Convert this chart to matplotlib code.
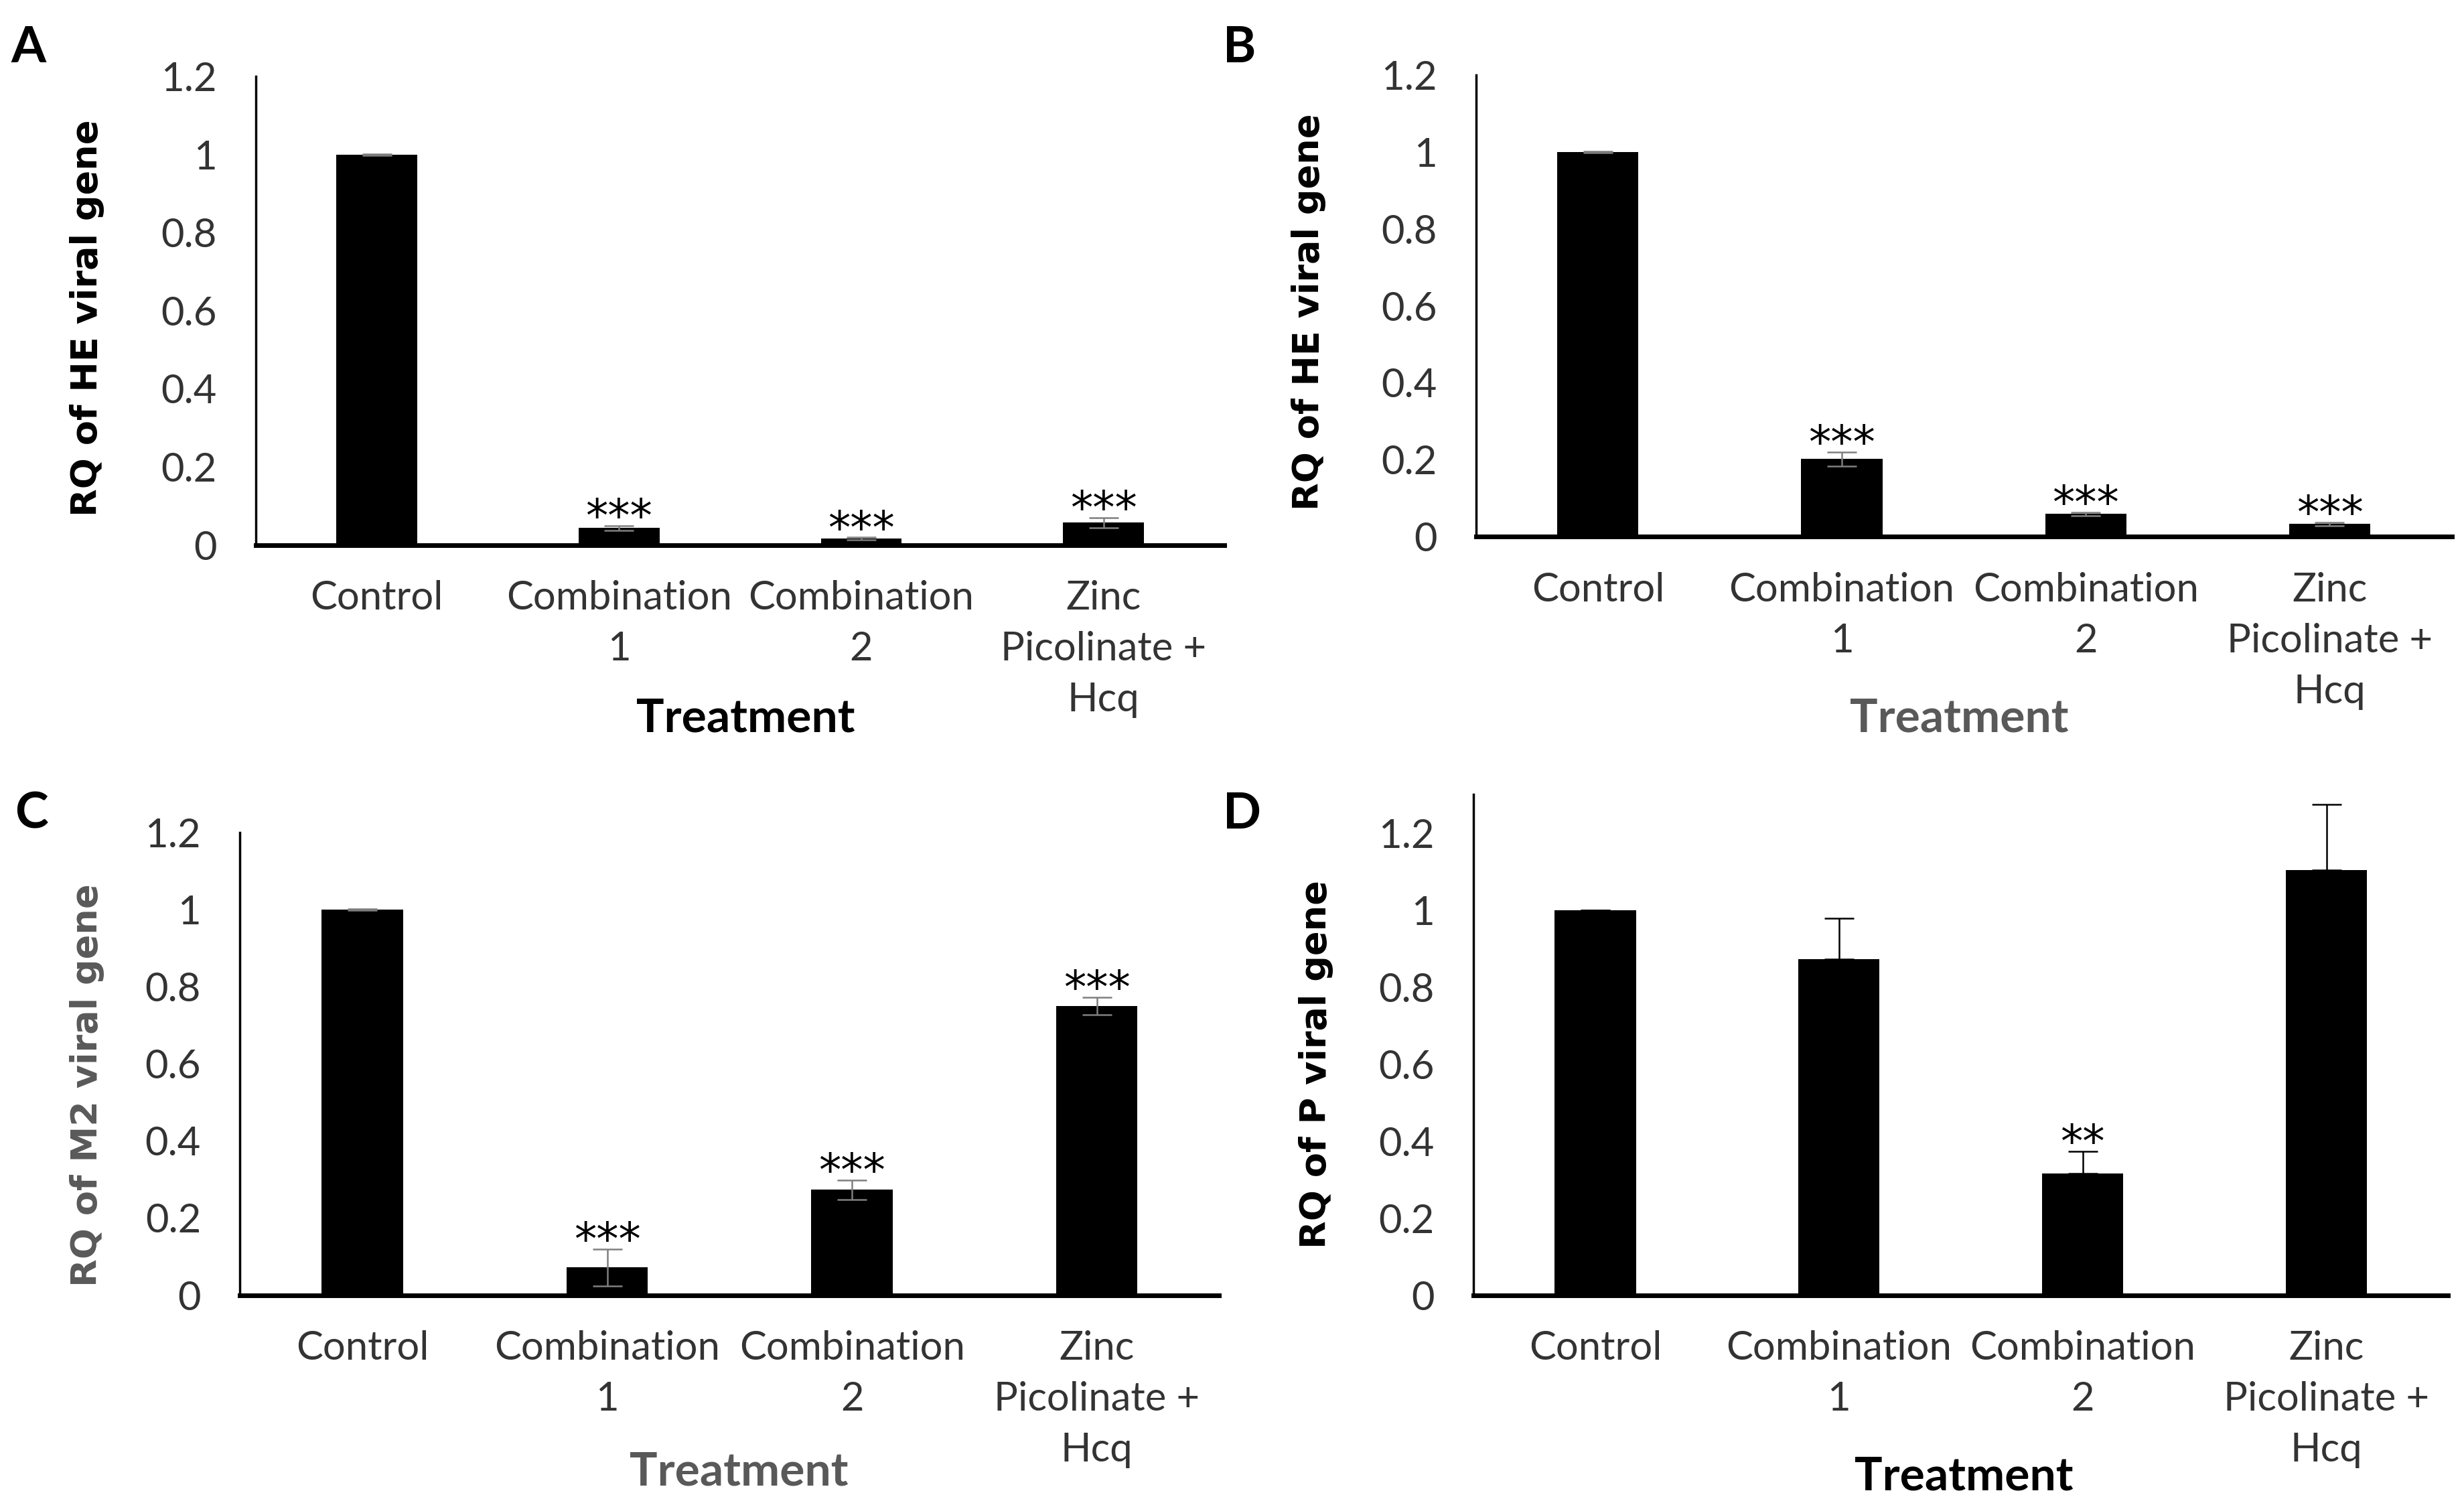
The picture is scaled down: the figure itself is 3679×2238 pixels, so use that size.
import matplotlib
matplotlib.use("Agg")
import matplotlib.pyplot as plt
import numpy as np

# treatment groups (x axis)
treatments = ["Control", "Combination\n1", "Combination\n2", "Zinc\nPicolinate +\nHcq"]

# panel A: RQ of HE viral gene
rq_a = [1.0, 0.043, 0.016, 0.057]
err_a = [0.002, 0.006, 0.003, 0.013]
sig_a = ["", "***", "***", "***"]

# panel B: RQ of HE viral gene
rq_b = [1.0, 0.202, 0.059, 0.033]
err_b = [0.002, 0.018, 0.004, 0.004]
sig_b = ["", "***", "***", "***"]

# panel C: RQ of M2 viral gene
rq_c = [1.0, 0.072, 0.273, 0.750]
err_c = [0.002, 0.048, 0.025, 0.023]
sig_c = ["", "***", "***", "***"]

# panel D: RQ of P viral gene (upper error only)
rq_d = [1.0, 0.873, 0.316, 1.103]
err_d = [0.0, 0.106, 0.057, 0.172]
sig_d = ["", "", "**", ""]

yticks = [0, 0.2, 0.4, 0.6, 0.8, 1.0, 1.2]
ytick_labels = ["0", "0.2", "0.4", "0.6", "0.8", "1", "1.2"]

TEXT_FONT = ["Lato", "DejaVu Sans"]
TICK_COLOR = "#333333"
GRAY = "#595959"

plt.rcParams["font.family"] = TEXT_FONT

fig = plt.figure(figsize=(36.79, 22.38), dpi=100)


def panel(rect, vals, errs, sigs, ylabel, ylabel_xy, ylabel_color,
          xlabel_xy, xlabel_color, letter, letter_xy, ytop=1.2,
          err_color="#7f7f7f", upper_only=False):
    ax = fig.add_axes(rect)
    x = np.arange(len(treatments))
    if upper_only:
        yerr = [np.zeros(len(errs)), errs]
    else:
        yerr = errs
    ax.bar(x, vals, width=0.333, color="black", zorder=2)
    ax.errorbar(x, vals, yerr=yerr, fmt="none", ecolor=err_color,
                elinewidth=1.8, capsize=16, capthick=1.8, zorder=3)
    for xi, v, e, s in zip(x, vals, errs, sigs):
        if s:
            ax.annotate(s, (xi, v + e), xytext=(0, -6), textcoords="offset points",
                        ha="center", va="baseline", fontsize=48,
                        family="DejaVu Sans", color="black", zorder=4)
    ax.set_xlim(-0.5, len(treatments) - 0.5)
    ax.set_ylim(0, ytop)
    ax.set_yticks(yticks)
    ax.set_yticklabels(ytick_labels)
    ax.set_xticks(x)
    ax.set_xticklabels(treatments, linespacing=1.5)
    ax.tick_params(axis="both", length=0, labelsize=43, labelcolor=TICK_COLOR)
    ax.tick_params(axis="x", pad=38)
    ax.tick_params(axis="y", pad=42)
    for lbl in ax.get_xticklabels():
        lbl.set_multialignment("center")
    for side in ["top", "right"]:
        ax.spines[side].set_visible(False)
    ax.spines["left"].set_linewidth(2.5)
    ax.spines["bottom"].set_linewidth(5)
    ax.spines["left"].set_color("black")
    ax.spines["bottom"].set_color("black")

    fig.text(ylabel_xy[0], ylabel_xy[1], ylabel, rotation=90, ha="center",
             va="center", fontsize=39, fontweight="bold",
             family="DejaVu Sans", color=ylabel_color)
    fig.text(xlabel_xy[0], xlabel_xy[1], "Treatment", ha="center", va="center",
             fontsize=50, fontweight="bold", color=xlabel_color)
    fig.text(letter_xy[0], letter_xy[1], letter, ha="center", va="center",
             fontsize=54, fontweight="bold", color="black")
    return ax


panel([0.1038, 0.6365, 0.3932, 0.3125], rq_a, err_a, sig_a,
      "RQ of HE viral gene", (0.0353, 0.788), "black",
      (0.3026, 0.5205), "black", "A", (0.0115, 0.968))

panel([0.5990, 0.6420, 0.3960, 0.3080], rq_b, err_b, sig_b,
      "RQ of HE viral gene", (0.531, 0.792), "black",
      (0.795, 0.5205), GRAY, "B", (0.503, 0.968))

panel([0.0974, 0.1360, 0.3974, 0.3087], rq_c, err_c, sig_c,
      "RQ of M2 viral gene", (0.0353, 0.276), GRAY,
      (0.300, 0.018), GRAY, "C", (0.0128, 0.457))

panel([0.5980, 0.1360, 0.3956, 0.3340], rq_d, err_d, sig_d,
      "RQ of P viral gene", (0.534, 0.290), "black",
      (0.797, 0.0148), "black", "D", (0.504, 0.457),
      ytop=1.3, err_color="black", upper_only=True)

fig.savefig("out.png", dpi=100, facecolor="white")
